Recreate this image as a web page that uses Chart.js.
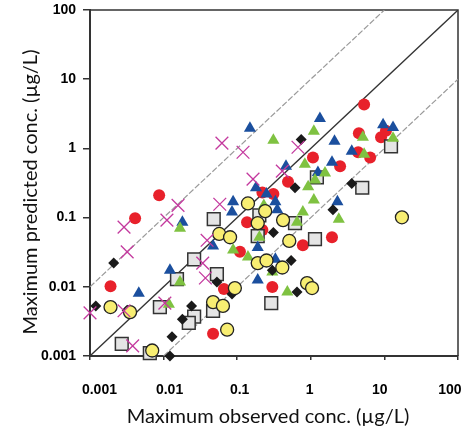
<!DOCTYPE html>
<html>
<head>
<meta charset="utf-8">
<script src="https://cdn.jsdelivr.net/npm/chart.js@4.4.1/dist/chart.umd.min.js"></script>
<style>
  html, body { margin: 0; padding: 0; background: #fff; overflow: hidden; }
  #wrap { width: 468px; height: 430px; position: relative; }
  canvas { display: block; }
</style>
</head>
<body>
<div id="wrap"><canvas id="chart"></canvas></div>
<script>
// axis ticks (both axes are log, same range)
const tickValues = [0.001, 0.01, 0.1, 1, 10, 100];
const tickLabels = ['0.001', '0.01', '0.1', '1', '10', '100'];
const xTitle = 'Maximum observed conc. (\u00b5g/L)';
const yTitle = 'Maximum predicted conc. (\u00b5g/L)';

// guide lines: 1:1 and factor of 10 either side
const parityLine = [[0.001, 0.001], [100, 100]];
const upperFactor10 = [[0.001, 0.01], [10, 100]];
const lowerFactor10 = [[0.01, 0.001], [100, 10]];

// [observed, predicted] per marker type
const redCircles = [
    [5.3, 4.3], [4.5, 1.65], [9.0, 1.45], [10.5, 1.8], [4.4, 0.88], [6.4, 0.74],
    [1.07, 0.74], [2.5, 0.55], [0.49, 0.33], [0.31, 0.22], [0.22, 0.23], [0.0087, 0.21],
    [0.0041, 0.098], [0.136, 0.086], [0.22, 0.066], [0.109, 0.032], [0.78, 0.040],
    [1.94, 0.052], [0.0019, 0.0102], [0.066, 0.0093], [0.30, 0.0099], [0.047, 0.0021]
];
const blueTriangles = [
    [0.149, 1.95], [1.33, 2.7], [9.6, 2.2], [13.1, 2.0], [2.1, 1.27], [3.6, 0.91],
    [1.94, 0.63], [0.46, 0.55], [1.25, 0.45], [0.18, 0.27], [0.25, 0.22], [0.088, 0.17],
    [0.085, 0.12], [0.33, 0.17], [0.35, 0.13], [0.018, 0.086], [0.047, 0.039], [0.19, 0.037],
    [0.0122, 0.0174], [0.0046, 0.0081], [0.19, 0.0125], [0.33, 0.025], [2.3, 0.17]
];
const greenTriangles = [
    [0.31, 1.31], [1.10, 1.77], [5.1, 1.45], [13.1, 1.40], [5.3, 0.82], [0.83, 0.59],
    [1.56, 0.44], [1.14, 0.35], [0.92, 0.28], [1.10, 0.18], [0.78, 0.12], [0.65, 0.086],
    [2.4, 0.095], [0.0167, 0.070], [0.088, 0.034], [0.14, 0.027], [0.20, 0.052], [0.23, 0.15],
    [0.0167, 0.0117], [0.0118, 0.0056], [0.48, 0.0084], [0.30, 0.0163]
];
const blackDiamonds = [
    [0.74, 1.35], [0.61, 0.27], [3.6, 0.31], [2.0, 0.13], [0.31, 0.061], [0.54, 0.024],
    [0.30, 0.0174], [0.65, 0.0084], [0.0021, 0.022], [0.0012, 0.0053], [0.0032, 0.0046],
    [0.053, 0.0117], [0.085, 0.0079], [0.024, 0.0053], [0.018, 0.0034], [0.013, 0.0019],
    [0.0122, 0.001]
];
const graySquares = [
    [12.3, 1.07], [1.21, 0.38], [5.0, 0.27], [0.61, 0.083], [1.14, 0.049], [0.19, 0.054],
    [0.20, 0.108], [0.048, 0.095], [0.026, 0.025], [0.0152, 0.0129], [0.053, 0.0152],
    [0.0089, 0.0051], [0.026, 0.0037], [0.022, 0.0030], [0.047, 0.0045], [0.0027, 0.0015],
    [0.0065, 0.0011], [0.29, 0.0058]
];
const yellowCircles = [
    [0.14, 0.16], [0.24, 0.124], [0.19, 0.083], [0.42, 0.092], [0.51, 0.046], [0.057, 0.058],
    [0.080, 0.052], [0.19, 0.022], [0.25, 0.024], [0.41, 0.019], [0.093, 0.0096], [0.89, 0.0113],
    [1.04, 0.0096], [0.047, 0.0060], [0.064, 0.0053], [0.073, 0.0024], [0.0019, 0.0051],
    [0.0035, 0.0043], [0.0070, 0.0012], [17.3, 0.101]
];
const magentaCrosses = [
    [0.062, 1.19], [0.12, 0.88], [0.67, 1.04], [0.41, 0.47], [0.164, 0.36], [0.058, 0.156],
    [0.0157, 0.15], [0.0111, 0.092], [0.0029, 0.073], [0.0032, 0.032], [0.039, 0.047],
    [0.034, 0.022], [0.037, 0.0134], [0.0104, 0.0058], [0.001, 0.0042], [0.0029, 0.0045],
    [0.0038, 0.0014]
];

const toXY = arr => arr.map(([x, y]) => ({ x, y }));

function markers(data, style, order) {
    return Object.assign({
        data: toXY(data),
        order: order,
        clip: false,
        borderWidth: 0,
        pointHoverRadius: 0
    }, style);
}

function guide(data, color, width, dash) {
    return {
        data: toXY(data),
        showLine: true,
        pointRadius: 0,
        borderColor: color,
        borderWidth: width,
        borderDash: dash,
        order: 20
    };
}

// frame on top/right + axis titles
const framePlugin = {
    id: 'frame',
    beforeDatasetsDraw(chart) {
        const { ctx, chartArea: a } = chart;
        ctx.save();
        ctx.strokeStyle = '#333';
        ctx.lineWidth = 1.5;
        ctx.beginPath();
        ctx.moveTo(a.left, a.top);
        ctx.lineTo(a.right, a.top);
        ctx.lineTo(a.right, a.bottom);
        ctx.stroke();
        ctx.restore();
    },
    afterDraw(chart) {
        const ctx = chart.ctx;
        ctx.save();
        ctx.fillStyle = '#111';
        ctx.font = '20px Lato, "Open Sans", sans-serif';
        ctx.textAlign = 'center';
        ctx.textBaseline = 'alphabetic';
        ctx.fillText(xTitle, 268, 423);
        ctx.translate(37, 192);
        ctx.rotate(-Math.PI / 2);
        ctx.fillText(yTitle, 0, 0);
        ctx.restore();
    }
};

function noPad(s) {
    s.paddingLeft = 0;
    s.paddingRight = 0;
    s.paddingTop = 0;
    s.paddingBottom = 0;
}

const tickFont = { family: '"Liberation Sans", Arial, sans-serif', size: 14, weight: 'bold' };

function logAxis(fit, tickLength, padding, showLabels) {
    return {
        type: 'logarithmic',
        min: 0.001,
        max: 100,
        afterBuildTicks: scale => { scale.ticks = tickValues.map(v => ({ value: v })); },
        afterFit: fit,
        border: { display: true, color: '#333', width: 2 },
        grid: { drawOnChartArea: false, drawTicks: true, color: '#333', lineWidth: 1.5, tickLength: tickLength },
        ticks: {
            display: showLabels,
            color: '#000',
            padding: padding,
            font: tickFont,
            maxRotation: 0,
            autoSkip: false,
            callback: v => tickLabels[tickValues.indexOf(v)]
        }
    };
}

const xAxis = logAxis(s => { s.height = 4; noPad(s); }, 4, 0, false);
const yAxis = logAxis(s => { s.width = 90; noPad(s); }, 7, 7, true);

// the observed-axis labels sit slightly inward of their ticks at both ends,
// so they get their own index axis under the log axis
const xLabelAxis = {
    type: 'linear',
    position: 'bottom',
    weight: 1,
    min: -0.135,
    max: 5.115,
    afterBuildTicks: scale => { scale.ticks = tickLabels.map((_, i) => ({ value: i })); },
    afterFit: s => { s.height = 70; noPad(s); },
    border: { display: false },
    grid: { display: false, drawTicks: false },
    ticks: {
        color: '#000',
        padding: 22,
        font: tickFont,
        maxRotation: 0,
        autoSkip: false,
        callback: v => tickLabels[v]
    }
};

new Chart(document.getElementById('chart'), {
    type: 'scatter',
    data: {
        datasets: [
            markers(magentaCrosses, { pointStyle: 'crossRot', radius: 9, borderColor: '#c4399e', borderWidth: 1.3, backgroundColor: '#c4399e' }, 1),
            markers(yellowCircles, { pointStyle: 'circle', radius: 6.5, backgroundColor: '#f8ee72', borderColor: '#222', borderWidth: 1.3 }, 2),
            markers(blackDiamonds, { pointStyle: 'rectRot', radius: 5.5, backgroundColor: '#1a1a1a', borderColor: '#1a1a1a' }, 3),
            markers(greenTriangles, { pointStyle: 'triangle', radius: 7, backgroundColor: '#7fc241', borderColor: '#7fc241' }, 4),
            markers(blueTriangles, { pointStyle: 'triangle', radius: 7, backgroundColor: '#1b4f9e', borderColor: '#1b4f9e' }, 5),
            markers(graySquares, { pointStyle: 'rect', radius: 9, backgroundColor: '#e5e5e5', borderColor: '#333', borderWidth: 1.5 }, 6),
            markers(redCircles, { pointStyle: 'circle', radius: 6, backgroundColor: '#e8212b', borderColor: '#e8212b' }, 7),
            guide(upperFactor10, '#9a9a9a', 1.2, [6, 2]),
            guide(lowerFactor10, '#9a9a9a', 1.2, [6, 2]),
            guide(parityLine, '#333', 1.3, [])
        ]
    },
    options: {
        responsive: true,
        maintainAspectRatio: false,
        animation: false,
        events: [],
        layout: { autoPadding: false, padding: { top: 10, right: 10, left: 0, bottom: 0 } },
        scales: { x: xAxis, xl: xLabelAxis, y: yAxis },
        plugins: {
            legend: { display: false },
            tooltip: { enabled: false }
        }
    },
    plugins: [framePlugin]
});
</script>
</body>
</html>
